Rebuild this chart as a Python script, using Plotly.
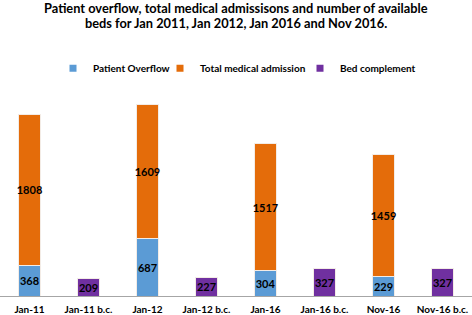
import plotly.graph_objects as go

categories = ["Jan-11", "Jan-11 b.c.", "Jan-12", "Jan-12 b.c.", "Jan-16", "Jan-16 b.c.", "Nov-16", "Nov-16 b.c."]
patient_overflow = [368, None, 687, None, 304, None, 229, None]
total_admission = [1808, None, 1609, None, 1517, None, 1459, None]
bed_complement = [None, 209, None, 227, None, 327, None, 327]
series_names = ["Patient Overflow", "Total medical admission", "Bed complement"]
series_colors = ["#5B9BD5", "#E46C0A", "#7030A0"]
legend_widths = [62, 95, 85]
title_lines = ["Patient overflow, total medical admissisons and number of available",
               "beds for Jan 2011, Jan 2012, Jan 2016 and Nov 2016."]

FONT = "Lato"
label_font = dict(family=FONT, size=11, color="black", weight="bold")

def txt(vals):
    return [("" if v is None else str(v)) for v in vals]

fig = go.Figure()
for vals, name, color in zip([patient_overflow, total_admission, bed_complement], series_names, series_colors):
    fig.add_trace(go.Bar(x=categories, y=vals, name=name, showlegend=False,
                         marker=dict(color=color, line=dict(color="#f3ece6", width=1)),
                         text=txt(vals), textposition="inside", insidetextanchor="middle",
                         textangle=0, insidetextfont=label_font))
# legend entries (small square markers like the reference)
for name, color, lw in zip(series_names, series_colors, legend_widths):
    fig.add_trace(go.Scatter(x=[None], y=[None], mode="markers", name=name, legendwidth=lw,
                             marker=dict(symbol="square", size=7, color=color)))

annotations = []
for i, line in enumerate(title_lines):
    annotations.append(dict(text=line, xref="paper", yref="paper", x=0.5, xanchor="center",
                            y=1 + (79.5 - 15.5 * i) / 209, yanchor="middle", showarrow=False,
                            font=dict(family=FONT, size=12.8, color="black", weight="bold")))

fig.update_layout(
    width=472, height=315,
    margin=dict(l=0, r=0, t=87, b=19, autoexpand=False),
    barmode="stack", bargap=0.63,
    paper_bgcolor="white", plot_bgcolor="white",
    uniformtext=dict(mode="show", minsize=11),
    annotations=annotations,
    legend=dict(orientation="h", x=53 / 472, xanchor="left", y=1.09, yanchor="middle",
                font=dict(family=FONT, size=10, color="black", weight="bold"),
                itemwidth=30, itemsizing="trace", traceorder="normal",
                bgcolor="rgba(0,0,0,0)"),
    showlegend=True,
    xaxis=dict(showline=True, linecolor="#a6a6a6", linewidth=1, ticks="", ticklen=0,
               automargin=False,
               tickfont=dict(family=FONT, size=10, color="black", weight="bold"),
               ticklabelstandoff=4, showgrid=False, zeroline=False, range=[-0.5, 7.5]),
    yaxis=dict(range=[0, 2500], visible=False, showgrid=False, zeroline=False),
)
fig.write_html("out.html", config={"displayModeBar": False},
               post_script="document.body.style.margin='0';")
